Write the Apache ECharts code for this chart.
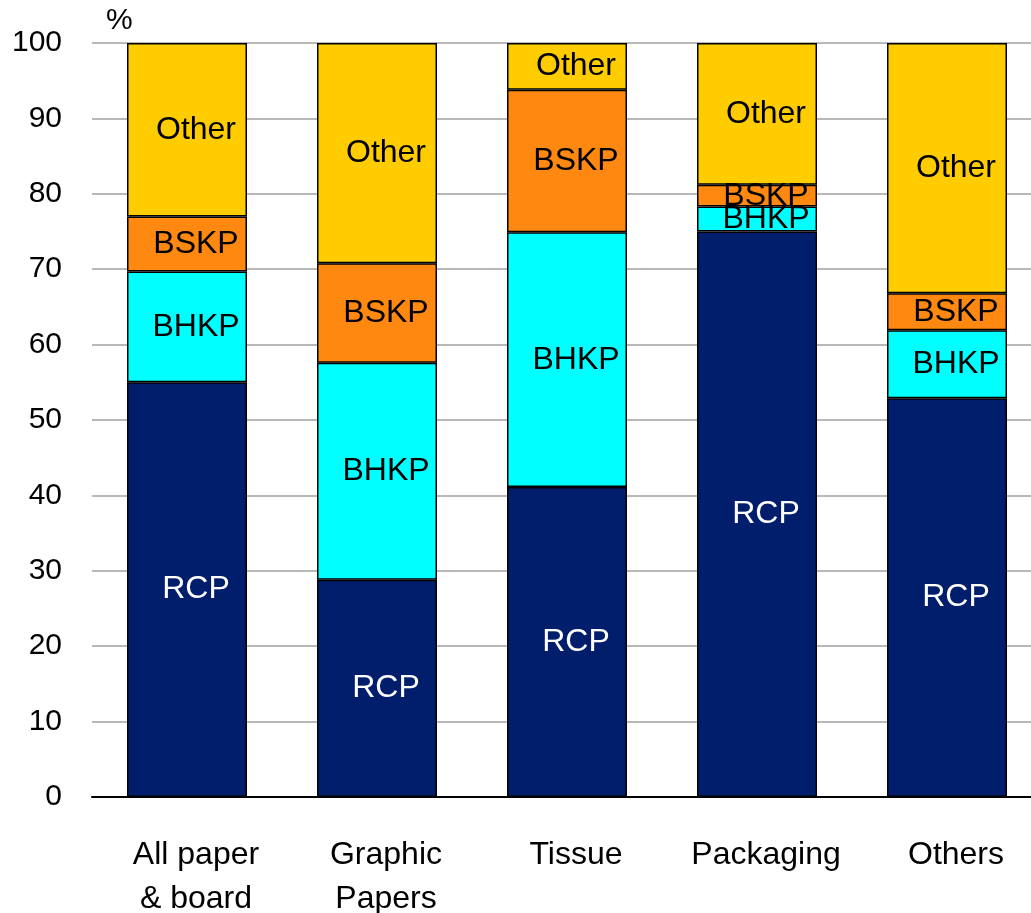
<!DOCTYPE html>
<html><head><meta charset="utf-8">
<script src="https://cdn.jsdelivr.net/npm/echarts@6/dist/echarts.min.js"></script>
<style>html,body{margin:0;padding:0;background:#fff}#c{width:1031px;height:913px}</style>
</head><body><div id="c"></div>
<script>
const categories = ['All paper\n& board', 'Graphic\nPapers', 'Tissue', 'Packaging', 'Others'];
const rcp   = [55.0, 28.8, 41.1, 75.0, 52.9];
const bhkp  = [14.7, 28.8, 33.8, 3.3, 9.0];
const bskp  = [7.3, 13.2, 18.9, 2.9, 4.9];
const other = [23.0, 29.2, 6.2, 18.8, 33.2];
const yTicks = [0, 10, 20, 30, 40, 50, 60, 70, 80, 90, 100];

const FONT = 'Liberation Sans, Arial, sans-serif';
function ser(name, data, color, textColor) {
  return {
    name, type: 'bar', stack: 'all', data, barWidth: 120,
    itemStyle: { color, borderColor: '#000', borderWidth: 1.5 },
    label: { show: true, position: 'inside', formatter: name,
      color: textColor, fontFamily: FONT, fontSize: 32, offset: [9, 0] }
  };
}
const chart = echarts.init(document.getElementById('c'), null, { renderer: 'canvas' });
chart.setOption({
  animation: false,
  backgroundColor: '#fff',
  grid: { left: 92, width: 950, top: 43, bottom: 116, containLabel: false, outerBoundsMode: 'none' },
  xAxis: {
    type: 'category', data: categories,
    axisLine: { lineStyle: { color: '#000', width: 2 } },
    axisTick: { show: false },
    axisLabel: { color: '#000', fontFamily: FONT, fontSize: 32, lineHeight: 44, margin: 36, interval: 0,
      padding: [0, 0, 0, 18] }
  },
  yAxis: {
    type: 'value', min: yTicks[0], max: yTicks[yTicks.length - 1], interval: 10,
    name: '%', nameLocation: 'end', nameGap: 7,
    nameTextStyle: { color: '#000', fontFamily: FONT, fontSize: 30, align: 'left', padding: [0, 0, 0, 14] },
    axisLine: { show: false }, axisTick: { show: false },
    axisLabel: { color: '#000', fontFamily: FONT, fontSize: 30, margin: 30 },
    splitLine: { lineStyle: { color: '#a0a0a0', width: 1.5 } }
  },
  series: [
    ser('RCP', rcp, '#001E6C', '#fff'),
    ser('BHKP', bhkp, '#00FFFF', '#000'),
    ser('BSKP', bskp, '#FF8811', '#000'),
    ser('Other', other, '#FFCC00', '#000')
  ]
});
</script></body></html>
